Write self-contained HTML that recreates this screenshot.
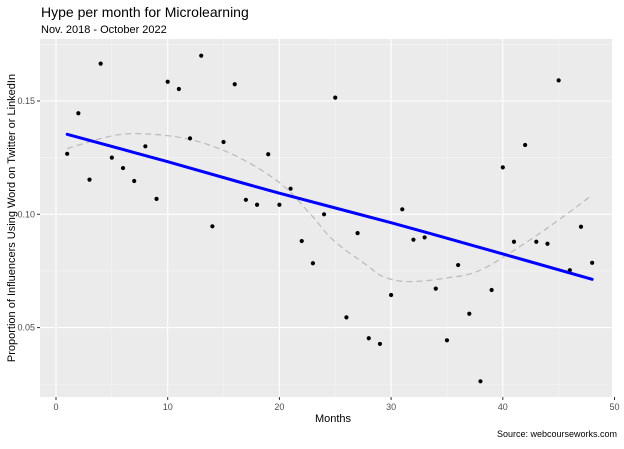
<!DOCTYPE html>
<html><head><meta charset="utf-8"><style>
body{margin:0;background:#fff;width:624px;height:444px;overflow:hidden;font-family:"Liberation Sans",Arial,sans-serif}
</style></head><body>
<svg id="chart" width="624" height="444" xmlns="http://www.w3.org/2000/svg" font-family="Liberation Sans, Arial, sans-serif">
<text x="41" y="17" font-size="14" fill="#000">Hype per month for Microlearning</text>
<text x="41" y="33" font-size="11" fill="#000">Nov. 2018 - October 2022</text>
<rect x="40" y="39" width="572" height="358" fill="#ebebeb"/>
<g id="grid"></g><g id="marks"></g><g id="axes"></g>
<text x="333" y="422" font-size="11" text-anchor="middle" fill="#000">Months</text>
<text transform="translate(15,218) rotate(-90)" font-size="11" text-anchor="middle" fill="#000">Proportion of Influencers Using Word on Twitter or LinkedIn</text>
<text x="617" y="437" font-size="9" text-anchor="end" fill="#000">Source: webcourseworks.com</text>
</svg>
<script>
const months=[1,2,3,4,5,6,7,8,9,10,11,12,13,14,15,16,17,18,19,20,21,22,23,24,25,26,27,28,29,30,31,32,33,34,35,36,37,38,39,40,41,42,43,44,45,46,47,48];
const hype=[0.1267,0.1446,0.1153,0.1665,0.1250,0.1204,0.1147,0.1300,0.1068,0.1585,0.1553,0.1335,0.1700,0.0947,0.1319,0.1574,0.1064,0.1042,0.1265,0.1042,0.1113,0.0882,0.0784,0.1000,0.1515,0.0545,0.0917,0.0453,0.0428,0.0644,0.1022,0.0888,0.0898,0.0672,0.0444,0.0776,0.0561,0.0263,0.0666,0.1207,0.0879,0.1306,0.0879,0.0870,0.1591,0.0753,0.0945,0.0786];
const trendX=[1,10,20,30,40,48];
const trendY=[0.1353,0.1232,0.1093,0.0963,0.0825,0.0713];
const smoothX=[1,5,8,12,16,20,22.8,24.8,27.8,29.3,31.5,35,38,42,45,48];
const smoothY=[0.129,0.1346,0.1355,0.133,0.126,0.114,0.100,0.0887,0.0776,0.0725,0.0703,0.0719,0.0754,0.0873,0.0975,0.1085];
const xTicks=[0,10,20,30,40,50];
const yTicks=[0.05,0.10,0.15];
const yTickLabels=["0.05","0.10","0.15"];
const NS="http://www.w3.org/2000/svg";
const sx=v=>56+v*11.17;
const sy=v=>214.3-(v-0.10)*2266;
function mk(tag,attrs,parent){const e=document.createElementNS(NS,tag);for(const k in attrs)e.setAttribute(k,attrs[k]);parent.appendChild(e);return e;}
function smoothPath(xs,ys){const p=xs.map((x,i)=>[sx(x),sy(ys[i])]);let d='M'+p[0][0]+','+p[0][1];
for(let i=0;i<p.length-1;i++){const p0=p[Math.max(0,i-1)],p1=p[i],p2=p[i+1],p3=p[Math.min(p.length-1,i+2)];
const c1=[p1[0]+(p2[0]-p0[0])/6,p1[1]+(p2[1]-p0[1])/6],c2=[p2[0]-(p3[0]-p1[0])/6,p2[1]-(p3[1]-p1[1])/6];
d+=' C'+c1[0]+','+c1[1]+' '+c2[0]+','+c2[1]+' '+p2[0]+','+p2[1];}return d;}
const grid=document.getElementById('grid'),marks=document.getElementById('marks'),axes=document.getElementById('axes');
for(let i=0;i<xTicks.length-1;i++){const m=(xTicks[i]+xTicks[i+1])/2;const l=mk('line',{x1:sx(m),x2:sx(m),y1:39,y2:397,stroke:'#f5f5f5','stroke-width':0.6},grid);

}
const ym=[0.025,0.075,0.125,0.175];
ym.forEach(v=>{const y=sy(v);if(y<39||y>397)return;const l=mk('line',{x1:40,x2:612,y1:y,y2:y,stroke:'#f5f5f5','stroke-width':0.6},grid);

});
xTicks.forEach(v=>{const l=mk('line',{x1:sx(v),x2:sx(v),y1:39,y2:397,stroke:'#fff','stroke-width':1.1},grid);


const t=mk('line',{x1:sx(v),x2:sx(v),y1:397,y2:400,stroke:'#333'},axes);


const tx=mk('text',{x:sx(v),y:410,'font-size':9,'text-anchor':'middle',fill:'#4d4d4d'},axes);tx.textContent=v;

});
yTicks.forEach((v,i)=>{const y=sy(v);const l=mk('line',{x1:40,x2:612,y1:y,y2:y,stroke:'#fff','stroke-width':1.1},grid);


const t=mk('line',{x1:37,x2:40,y1:y,y2:y,stroke:'#333'},axes);


const tx=mk('text',{x:35,y:y+3,'font-size':9,'text-anchor':'end',fill:'#4d4d4d'},axes);tx.textContent=yTickLabels[i];

});
const sp=mk('path',{d:smoothPath(smoothX,smoothY),fill:'none',stroke:'#bdbdbd','stroke-width':1.3,'stroke-dasharray':'6,4'},marks);


months.forEach((m,i)=>{const c=mk('circle',{cx:sx(m),cy:sy(hype[i]),r:2.1,fill:'#000'},marks);

});
const tp=mk('path',{d:smoothPath(trendX,trendY),fill:'none',stroke:'#0000ff','stroke-width':3,'stroke-linecap':'round'},marks);


</script>
</body></html>
